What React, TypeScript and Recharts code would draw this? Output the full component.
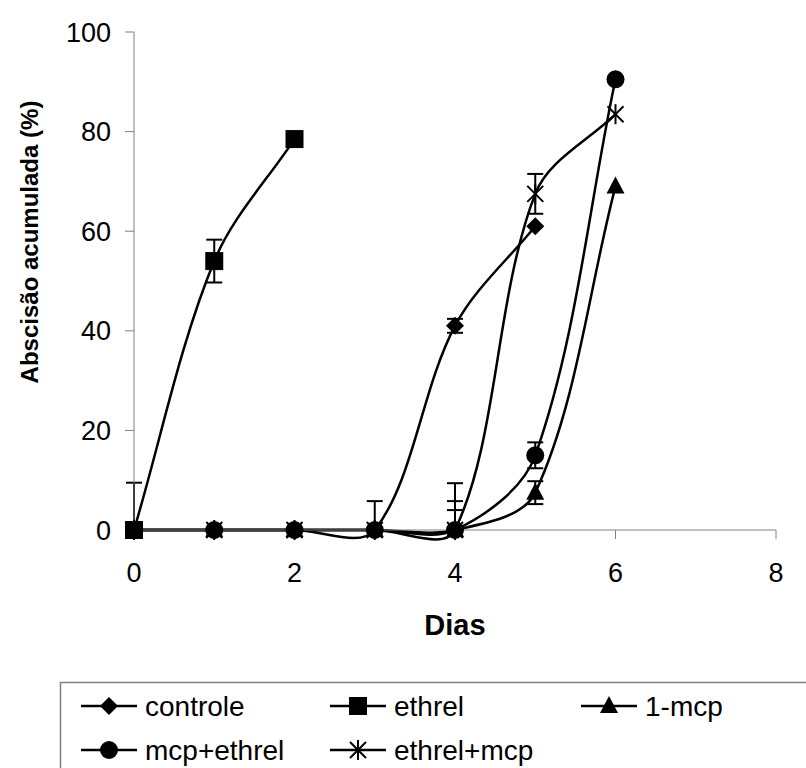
import React from "react"
import { ErrorBar, Line, LineChart, XAxis, YAxis } from "recharts"

// dias (x) e abscisão acumulada (%) por tratamento
const diasControle = [0, 1, 2, 3, 4, 5]
const controle = [0, 0, 0, 0, 41, 61]
const errControle: ([number, number] | null)[] = [null, null, null, [0, 5.8], [1.4, 1.4], null]

const diasEthrel = [0, 1, 2]
const ethrel = [0, 54, 78.5]
const errEthrel: ([number, number] | null)[] = [[0, 9.5], [4.3, 4.3], null]

const diasTodos = [0, 1, 2, 3, 4, 5, 6]
const mcp1 = [0, 0, 0, 0, 0, 7.5, 69]
const errMcp1: ([number, number] | null)[] = [null, null, null, null, [0, 4], [2.3, 2.3], null]
const mcpEthrel = [0, 0, 0, 0, 0, 15, 90.5]
const errMcpEthrel: ([number, number] | null)[] = [null, null, null, null, [0, 5.8], [2.6, 2.6], null]
const ethrelMcp = [0, 0, 0, 0, 0, 67.5, 83.5]
const errEthrelMcp: ([number, number] | null)[] = [null, null, null, null, [0, 9.4], [4, 4], null]

const xTicks = [0, 2, 4, 6, 8]
const yTicks = [0, 20, 40, 60, 80, 100]

const build = (xs: number[], ys: number[], errs: ([number, number] | null)[]) =>
  xs.map((x, i) => ({ x, y: ys[i], err: errs[i] ?? undefined }))

const FONT = "'Liberation Sans', Arial, sans-serif"

// smoothing close to the excel "smoothed line"
const excelCurve: any = (context: any) => {
  let pts: number[][] = []
  const dist = (a: number[], b: number[]) => Math.hypot(b[0] - a[0], b[1] - a[1])
  return {
    areaStart() {},
    areaEnd() {},
    lineStart() { pts = [] },
    point(x: number, y: number) { pts.push([+x, +y]) },
    lineEnd() {
      const n = pts.length
      if (!n) return
      context.moveTo(pts[0][0], pts[0][1])
      for (let i = 0; i < n - 1; i++) {
        const p0 = pts[Math.max(i - 1, 0)], p1 = pts[i], p2 = pts[i + 1], p3 = pts[Math.min(i + 2, n - 1)]
        const d01 = dist(p0, p1), d12 = dist(p1, p2), d23 = dist(p2, p3)
        const f1 = d01 + d12 > 0 ? d12 / (d01 + d12) / 3 : 0
        const f2 = d12 + d23 > 0 ? d12 / (d12 + d23) / 3 : 0
        const c1 = [p1[0] + (p2[0] - p0[0]) * f1, p1[1] + (p2[1] - p0[1]) * f1]
        const c2 = [p2[0] - (p3[0] - p1[0]) * f2, p2[1] - (p3[1] - p1[1]) * f2]
        context.bezierCurveTo(c1[0], c1[1], c2[0], c2[1], p2[0], p2[1])
      }
    },
  }
}

type Shape = "diamond" | "square" | "triangle" | "circle" | "star"

const Marker = ({ shape, cx, cy }: { shape: Shape; cx: number; cy: number }) => {
  if (shape === "diamond")
    return <polygon points={`${cx},${cy - 9} ${cx + 9},${cy} ${cx},${cy + 9} ${cx - 9},${cy}`} fill="#000" />
  if (shape === "square") return <rect x={cx - 9} y={cy - 9} width={18} height={18} fill="#000" />
  if (shape === "triangle")
    return <polygon points={`${cx},${cy - 10} ${cx + 9},${cy + 7} ${cx - 9},${cy + 7}`} fill="#000" />
  if (shape === "circle") return <circle cx={cx} cy={cy} r={9} fill="#000" />
  return (
    <g stroke="#000" strokeWidth={2}>
      <line x1={cx - 8} y1={cy - 8} x2={cx + 8} y2={cy + 8} />
      <line x1={cx - 8} y1={cy + 8} x2={cx + 8} y2={cy - 8} />
      <line x1={cx} y1={cy - 10} x2={cx} y2={cy + 10} />
    </g>
  )
}

const series = [
  { name: "controle", shape: "diamond" as Shape, data: build(diasControle, controle, errControle) },
  { name: "ethrel", shape: "square" as Shape, data: build(diasEthrel, ethrel, errEthrel) },
  { name: "1-mcp", shape: "triangle" as Shape, data: build(diasTodos, mcp1, errMcp1) },
  { name: "mcp+ethrel", shape: "circle" as Shape, data: build(diasTodos, mcpEthrel, errMcpEthrel) },
  { name: "ethrel+mcp", shape: "star" as Shape, data: build(diasTodos, ethrelMcp, errEthrelMcp) },
]

const legendPos = [
  { x: 81, y: 706 },
  { x: 330, y: 706 },
  { x: 581, y: 706 },
  { x: 81, y: 750 },
  { x: 330, y: 750 },
]

const App = () => {
  return (
    <div style={{ position: "absolute", left: 0, top: 0, width: 806, height: 768, overflow: "hidden", background: "#fff" }}>
      <LineChart width={806} height={768} margin={{ top: 32, right: 30, left: 50, bottom: 178 }}>
        <XAxis
          type="number"
          dataKey="x"
          domain={[0, 8]}
          ticks={xTicks}
          allowDuplicatedCategory={false}
          height={60}
          tickSize={9}
          tickMargin={24}
          stroke="#808080"
          tick={{ fill: "#000", fontSize: 27, fontFamily: FONT }}
          label={() => (
            <text x={455} y={625} textAnchor="middle" dominantBaseline="central" fontSize={29} fontWeight="bold" fontFamily={FONT} fill="#000">
              Dias
            </text>
          )}
        />
        <YAxis
          type="number"
          domain={[0, 100]}
          ticks={yTicks}
          width={84}
          tickSize={9}
          tickMargin={14}
          stroke="#808080"
          tick={{ fill: "#000", fontSize: 27, fontFamily: FONT }}
          label={() => (
            <text x={29} y={242} transform="rotate(-90 29 242)" textAnchor="middle" dominantBaseline="central" fontSize={24} fontWeight="bold" fontFamily={FONT} fill="#000">
              Abscisão acumulada (%)
            </text>
          )}
        />
        {series.map(s => (
          <Line
            key={s.name}
            data={s.data}
            dataKey="y"
            name={s.name}
            type={excelCurve}
            stroke="#000"
            strokeWidth={2.5}
            isAnimationActive={false}
            dot={(p: any) => <Marker key={`${s.name}-${p.index}`} shape={s.shape} cx={p.cx} cy={p.cy} />}
            activeDot={false}
          >
            <ErrorBar dataKey="err" width={8} strokeWidth={2} stroke="#000" direction="y" />
          </Line>
        ))}
      </LineChart>
      <svg style={{ position: "absolute", left: 0, top: 0 }} width={806} height={768}>
        <path d="M60.5,768 L60.5,682.5 L806,682.5" fill="none" stroke="#808080" strokeWidth={1.5} />
        {series.map((s, i) => {
          const { x, y } = legendPos[i]
          return (
            <g key={s.name}>
              <line x1={x} y1={y} x2={x + 56} y2={y} stroke="#000" strokeWidth={2.5} />
              <Marker shape={s.shape} cx={x + 28} cy={y} />
              <text x={x + 64} y={y} dominantBaseline="central" fontSize={28} fontFamily={FONT} fill="#000">
                {s.name}
              </text>
            </g>
          )
        })}
      </svg>
    </div>
  )
}

export default App
